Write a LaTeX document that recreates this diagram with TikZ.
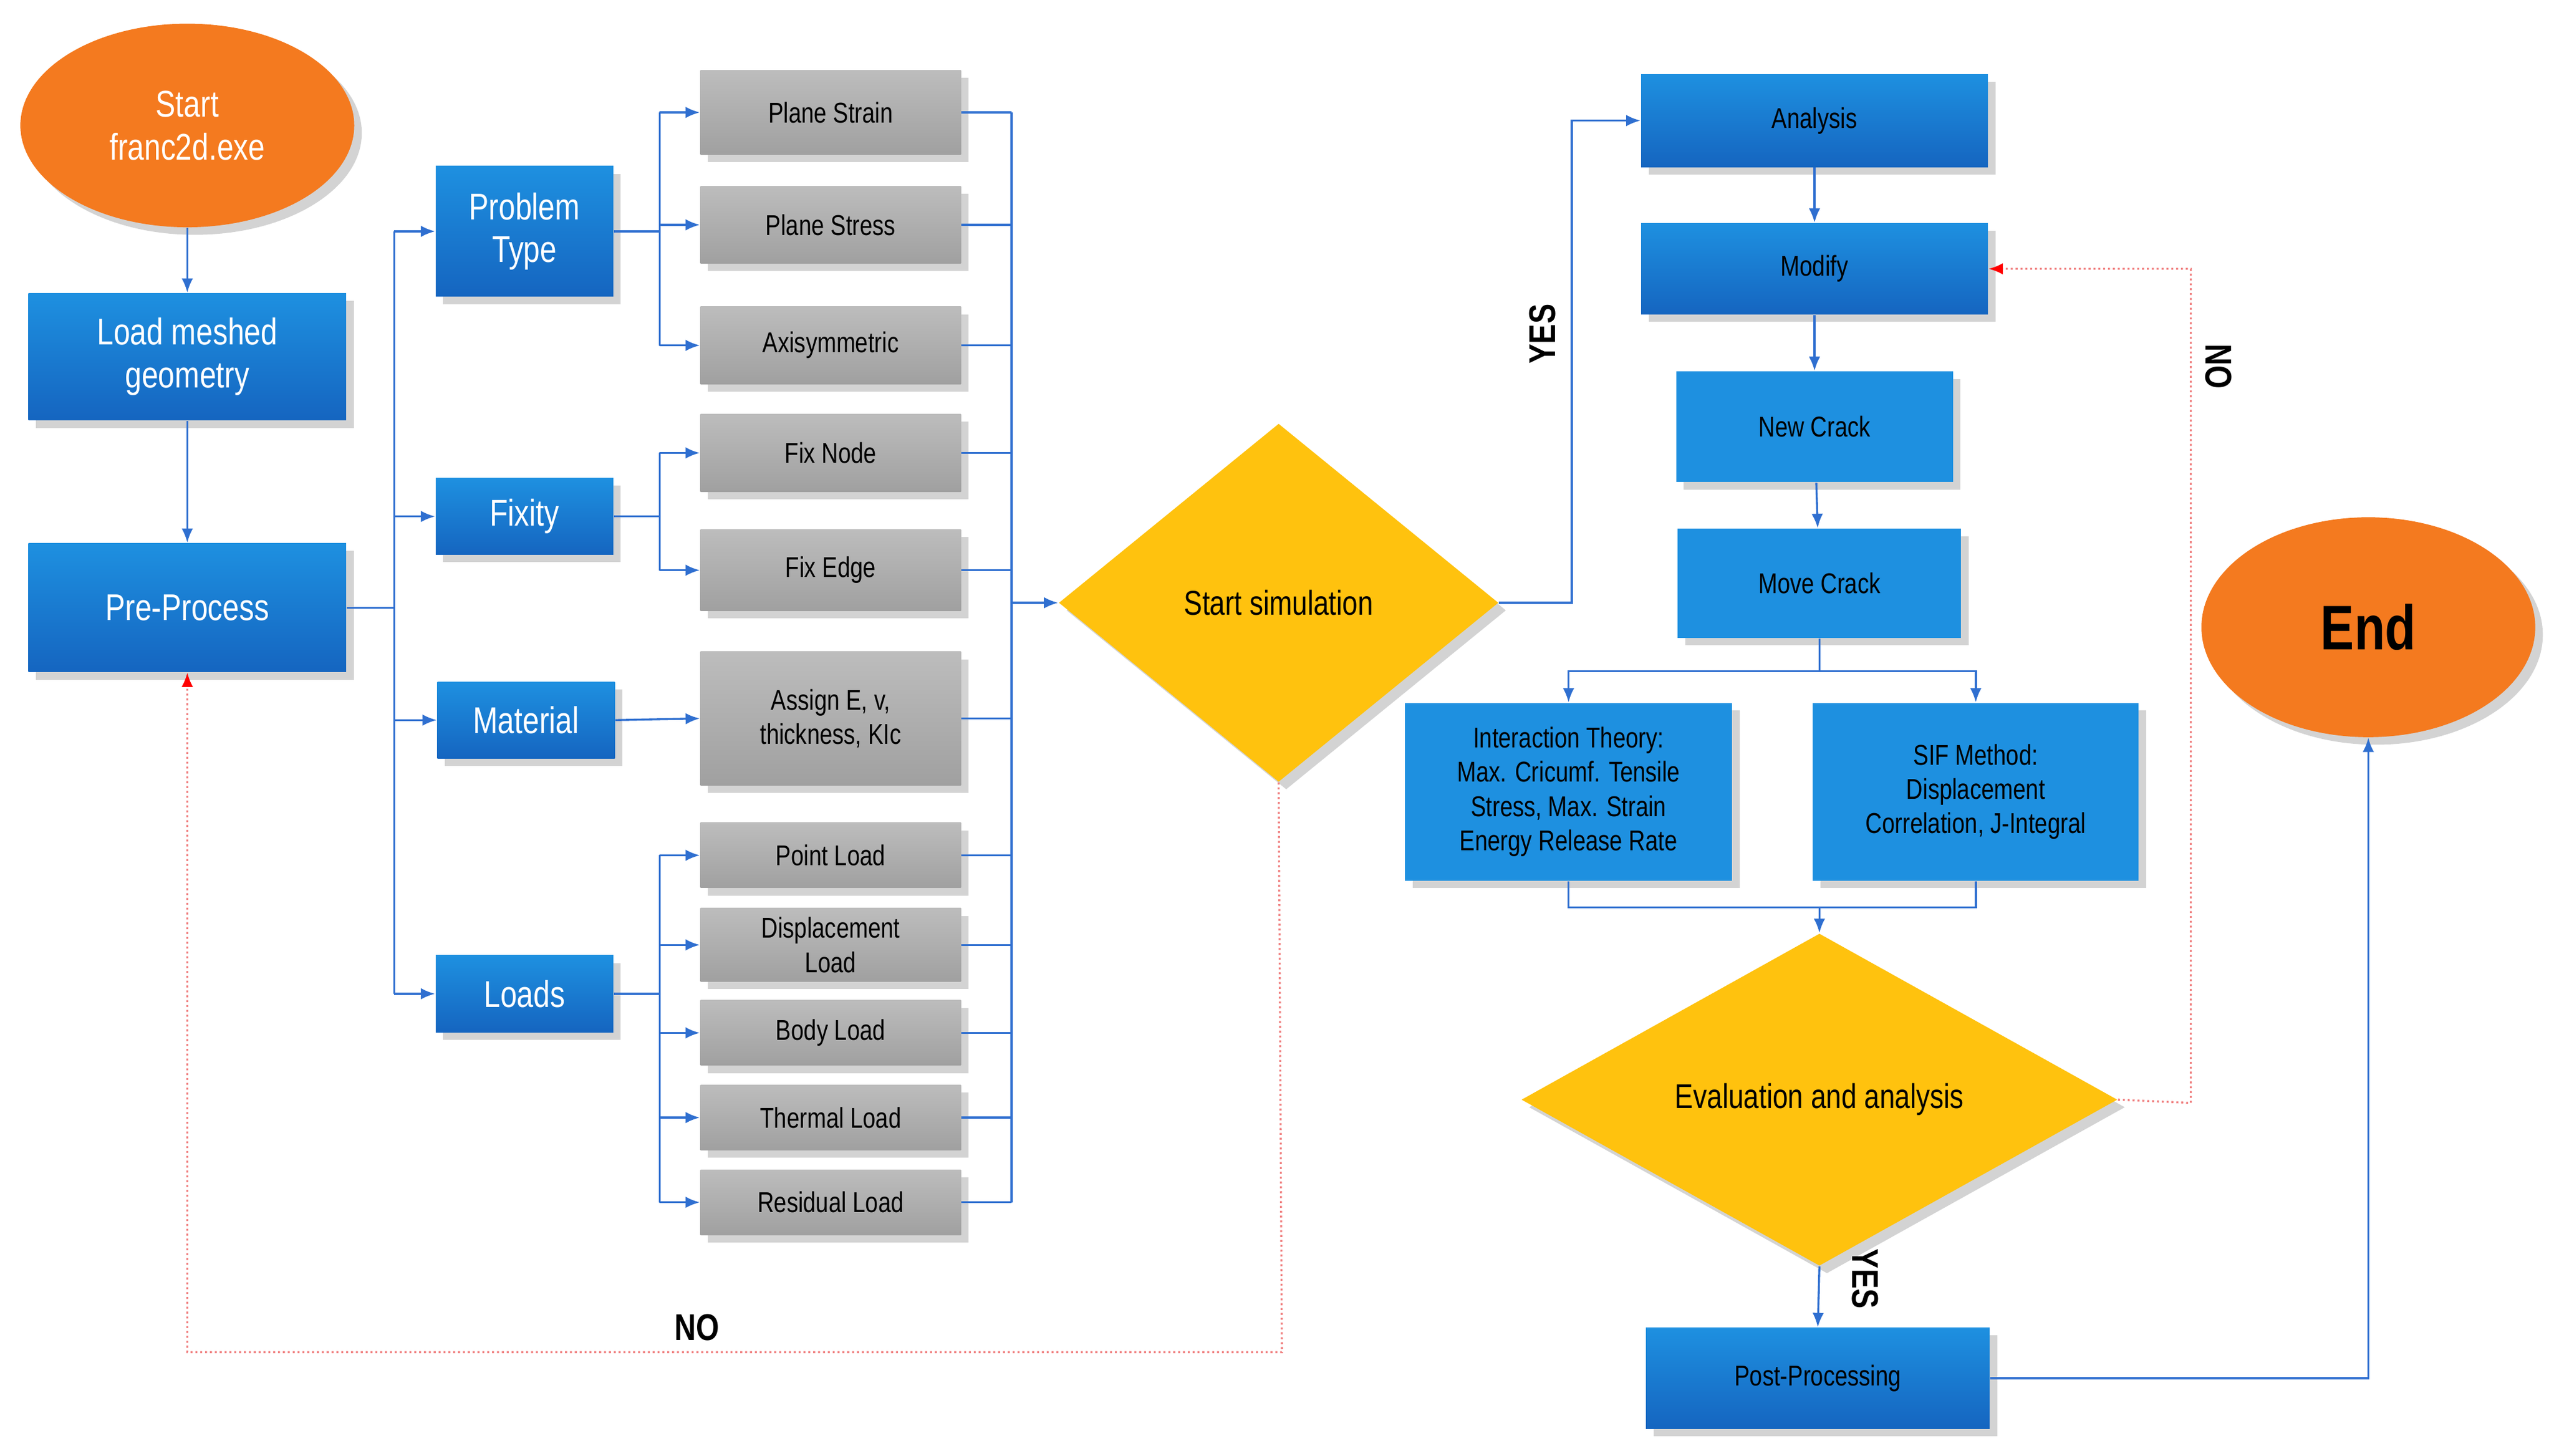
\documentclass[tikz,border=0pt]{standalone}
\usepackage{fontspec}
\setmainfont{Liberation Sans}[FakeStretch=0.8]
\usetikzlibrary{shapes.geometric,arrows.meta,shadows}
\definecolor{bl}{HTML}{1565C0}
\definecolor{bll}{HTML}{1E90E0}
\definecolor{gr}{HTML}{A0A0A0}
\definecolor{org}{HTML}{F47A1F}
\definecolor{yel}{HTML}{FFC20E}
\definecolor{ln}{HTML}{2F6FD0}
\definecolor{rd}{HTML}{F08080}
\begin{document}
\begin{tikzpicture}[x=0.02cm,y=-0.02cm,
  box/.style={rectangle,inner sep=1pt,align=center,drop shadow={opacity=0.35}},
  bbox/.style={box,top color=bll,bottom color=bl,text=white,font=\fontsize{13}{15}\selectfont},
  lbox/.style={box,fill=bll,text=black,font=\fontsize{10}{12}\selectfont},
  rbox/.style={box,top color=bll,bottom color=bl,text=black,font=\fontsize{10}{12}\selectfont},
  gbox/.style={box,top color=gr!70,bottom color=gr,minimum width=3.2cm,minimum height=0.95cm,font=\fontsize{10}{12}\selectfont},
  ell/.style={ellipse,fill=org,drop shadow={opacity=0.35},align=center,inner sep=0pt},
  dia/.style={diamond,fill=yel,drop shadow={opacity=0.35},inner sep=0pt,font=\fontsize{12}{14}\selectfont},
  ar/.style={ln,line width=0.7pt,-{Latex[length=5pt,width=4pt]}},
  li/.style={ln,line width=0.7pt},
  rar/.style={rd,line width=0.7pt,densely dotted,-{Latex[length=5pt,width=4pt,fill=red,color=red]}},
  lab/.style={font=\bfseries\fontsize{13}{15}\selectfont}]
\useasboundingbox (0,0) rectangle (1568,893.7);
% left column
\node[ell,minimum width=4.1cm,minimum height=2.5cm,text=white,font=\fontsize{13}{15}\selectfont] (start) at (115,77) {Start\\franc2d.exe};
\node[bbox,minimum width=3.9cm,minimum height=1.56cm] (load) at (115,219) {Load meshed\\geometry};
\node[bbox,minimum width=3.9cm,minimum height=1.58cm] (pre) at (115,373) {Pre-Process};
\node[bbox,minimum width=2.18cm,minimum height=1.6cm] (pt) at (322,142) {Problem\\Type};
\node[bbox,minimum width=2.18cm,minimum height=0.94cm] (fix) at (322,317) {Fixity};
\node[bbox,minimum width=2.18cm,minimum height=0.94cm] (mat) at (323,442) {Material};
\node[bbox,minimum width=2.18cm,minimum height=0.94cm] (lds) at (322,610) {Loads};
% gray
\node[gbox,minimum height=1.04cm] (g1) at (510,69) {Plane Strain};
\node[gbox] (g2) at (510,138) {Plane Stress};
\node[gbox] (g3) at (510,212) {Axisymmetric};
\node[gbox] (g4) at (510,278) {Fix Node};
\node[gbox,minimum height=1cm] (g5) at (510,350) {Fix Edge};
\node[gbox,minimum height=1.64cm] (g6) at (510,441) {Assign E, v,\\thickness, KIc};
\node[gbox,minimum height=0.8cm] (g7) at (510,525) {Point Load};
\node[gbox,minimum height=0.9cm] (g8) at (510,580) {Displacement\\Load};
\node[gbox,minimum height=0.8cm] (g9) at (510,634) {Body Load};
\node[gbox,minimum height=0.8cm] (g10) at (510,686) {Thermal Load};
\node[gbox,minimum height=0.8cm] (g11) at (510,738) {Residual Load};
% diamonds
\node[dia,minimum width=5.4cm,minimum height=4.4cm] (sim) at (785,370) {Start simulation};
\node[dia,minimum width=7.32cm,minimum height=4.08cm] (eva) at (1117,675) {Evaluation and analysis};
% right
\node[rbox,minimum width=4.26cm,minimum height=1.14cm] (ana) at (1114,74) {Analysis};
\node[rbox,minimum width=4.26cm,minimum height=1.12cm] (mod) at (1114,165) {Modify};
\node[lbox,minimum width=3.4cm,minimum height=1.36cm] (nc) at (1114,262) {New Crack};
\node[lbox,minimum width=3.48cm,minimum height=1.34cm] (mc) at (1117,358) {Move Crack};
\node[lbox,minimum width=4.02cm,minimum height=2.18cm] (it) at (963,486) {Interaction Theory:\\Max. Cricumf. Tensile\\Stress, Max. Strain\\Energy Release Rate};
\node[lbox,minimum width=4cm,minimum height=2.18cm] (sif) at (1213,486) {SIF Method:\\Displacement\\Correlation, J-Integral};
\node[rbox,minimum width=4.22cm,minimum height=1.24cm] (post) at (1116,846) {Post-Processing};
\node[ell,minimum width=4.1cm,minimum height=2.7cm,font=\bfseries\fontsize{22}{24}\selectfont] (end) at (1454,385) {End};
% coordinates
\coordinate (b1) at (242,373);
\coordinate (b2) at (405,142);
\coordinate (b3) at (405,317);
\coordinate (b4) at (405,610);
\coordinate (cx) at (621,370);
\coordinate (sp) at (1117,412);
\coordinate (jn) at (1117,557);
% connectors left
\draw[ar] (start) -- (load);
\draw[ar] (load) -- (pre);
\draw[li] (pre.east) -- (b1);
\draw[li] (b1 |- pt) -- (b1 |- lds);
\foreach \n in {pt,fix,mat,lds} \draw[ar] (b1 |- \n) -- (\n.west);
\draw[li] (pt.east) -- (b2);
\draw[li] (b2 |- g1) -- (b2 |- g3);
\foreach \n in {g1,g2,g3} \draw[ar] (b2 |- \n) -- (\n.west);
\draw[li] (fix.east) -- (b3);
\draw[li] (b3 |- g4) -- (b3 |- g5);
\foreach \n in {g4,g5} \draw[ar] (b3 |- \n) -- (\n.west);
\draw[ar] (mat.east) -- (g6.west);
\draw[li] (lds.east) -- (b4);
\draw[li] (b4 |- g7) -- (b4 |- g11);
\foreach \n in {g7,g8,g9,g10,g11} \draw[ar] (b4 |- \n) -- (\n.west);
\draw[li] (cx |- g1) -- (cx |- g11);
\foreach \n in {g1,g2,g3,g4,g5,g6,g7,g8,g9,g10,g11} \draw[li] (\n.east) -- (cx |- \n);
\draw[ar] (cx) -- (sim.west);
% right connectors
\draw[ar] (sim.east) -- (965,370) -- (965,74) -- (ana.west);
\draw[ar] (ana) -- (mod);
\draw[ar] (mod) -- (nc);
\draw[ar] (nc) -- (mc);
\draw[li] (mc.south) -- (sp);
\draw[ar] (sp) -| (it.north);
\draw[ar] (sp) -| (sif.north);
\draw[li] (it.south) |- (jn);
\draw[li] (sif.south) |- (jn);
\draw[ar] (jn) -- (eva.north);
\draw[ar] (eva.south) -- (post.north);
\draw[rar] (eva.east) -- (1345,677) -- (1345,165) -- (mod.east);
\draw[rar] (sim.south) -- (787,830) -- (115,830) -- (pre.south);
\draw[ar] (post.east) -- (1454,846) -- (end.south);
% labels
\node[lab,rotate=90] (y1) at (947,205) {YES};
\node[lab,rotate=-90] (n1) at (1362,225) {NO};
\node[lab] (n2) at (428,815) {NO};
\node[lab,rotate=-90] (y2) at (1145,785) {YES};
\end{tikzpicture}
\end{document}
